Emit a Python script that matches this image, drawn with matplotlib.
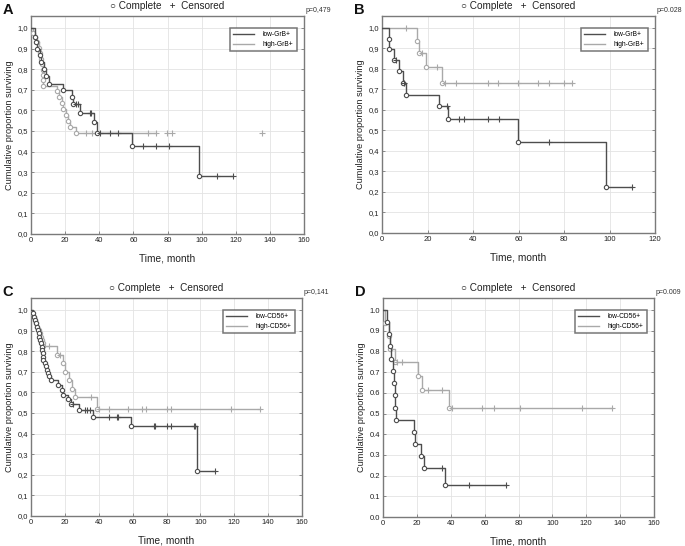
import matplotlib
matplotlib.use("Agg")
import matplotlib.pyplot as plt
from matplotlib.ticker import FixedLocator, FuncFormatter

plt.rcParams['font.family'] = ['Liberation Sans', 'DejaVu Sans']

# ---------------- data ----------------
# Panel A (GrB, full range)
a_low_t = [2.5, 3.1, 3.7, 5.1, 6.1, 7.6, 9.0, 10.4, 18.8, 24.2, 24.6, 28.5, 36.7, 38.7, 59.2, 98.2]
a_low_s = [0.956, 0.93, 0.90, 0.868, 0.835, 0.80, 0.767, 0.73, 0.697, 0.663, 0.63, 0.589, 0.544, 0.49, 0.427, 0.283]
a_low_c = [26.6, 27.5, 34.4, 35.4, 40.5, 46.5, 51.2, 65.5, 73.1, 80.9, 108.8, 118.6]
a_high_t = [1.0, 2.5, 3.5, 4.5, 5.2, 6.0, 6.5, 7.0, 7.0, 7.2, 7.2, 15.2, 16.6, 18.0, 19.0, 20.3, 21.8, 22.8, 26.3]
a_high_s = [0.977, 0.955, 0.93, 0.905, 0.88, 0.85, 0.825, 0.795, 0.77, 0.746, 0.72, 0.694, 0.665, 0.635, 0.605, 0.578, 0.55, 0.52, 0.49]
a_high_c = [32.5, 35.5, 68.4, 73.1]
a_high_c_extra = [79.5, 82.8, 135.6]

# Panel B (GrB)
b_low_t = [2.9, 3.0, 5.1, 7.6, 9.2, 10.4, 24.9, 28.9, 59.6, 98.4]
b_low_s = [0.947, 0.895, 0.842, 0.789, 0.731, 0.673, 0.617, 0.555, 0.444, 0.222]
b_low_c = [6.3, 9.6, 28.5, 33.7, 35.9, 46.4, 51.5, 73.5, 109.8]
b_high_t = [15.5, 16.4, 19.2, 26.3]
b_high_s = [0.938, 0.876, 0.81, 0.733]
b_high_c = [10.5, 17.7, 24.2, 27.5, 32.6, 46.4, 51.2, 59.7, 68.5, 73.5, 80.2, 83.7]

# Panel C (CD56, full range)
c_low_t = [1.0, 1.8, 2.5, 3.0, 3.5, 4.0, 4.5, 4.8, 5.3, 5.8, 6.2, 6.5, 6.8, 7.0, 7.3, 8.0, 8.8, 9.3, 10.0,
           10.6, 11.6, 16.0, 18.2, 19.0, 22.0, 23.4, 28.2, 36.5, 58.8, 97.8]
c_low_s = [0.984, 0.968, 0.952, 0.936, 0.919, 0.903, 0.887, 0.871, 0.855, 0.838, 0.822, 0.806, 0.79, 0.774,
           0.758, 0.742, 0.726, 0.71, 0.694, 0.678, 0.661, 0.637, 0.613, 0.589, 0.567, 0.545, 0.516, 0.482,
           0.437, 0.22]
c_low_c = [24.8, 32.0, 33.3, 34.8, 46.0, 50.6, 51.2, 72.6, 73.2, 80.1, 82.7, 96.0, 97.0, 108.7]
c_high_t = [0.8, 1.8, 2.5, 3.2, 3.8, 4.5, 5.2, 5.8, 6.3, 6.8, 7.0, 15.3, 18.8, 20.2, 22.4, 24.0, 26.0, 38.8]
c_high_s = [0.984, 0.968, 0.952, 0.936, 0.919, 0.903, 0.887, 0.871, 0.855, 0.839, 0.823, 0.782, 0.742,
            0.70, 0.66, 0.618, 0.577, 0.519]
c_high_c = [10.8, 17.1, 35.5, 40.4, 46.1, 57.5, 65.4, 67.9, 80.1, 82.7, 117.9, 135.2]

# Panel D (CD56)
d_low_t = [2.6, 3.8, 4.3, 4.8, 6.0, 6.4, 6.9, 7.1, 7.4, 18.2, 18.8, 22.6, 24.3, 36.6]
d_low_s = [0.941, 0.882, 0.824, 0.765, 0.706, 0.647, 0.588, 0.529, 0.471, 0.412, 0.353, 0.294, 0.235, 0.157]
d_low_c = [34.6, 50.8, 72.8]
d_high_t = [1.2, 3.8, 4.2, 7.1, 20.5, 22.9, 39.0]
d_high_s = [0.9375, 0.875, 0.8125, 0.75, 0.682, 0.614, 0.526]
d_high_c = [8.0, 11.2, 26.8, 34.6, 41.0, 58.3, 65.6, 80.7, 117.7, 135.4]

panel_letters = ["A", "B", "C", "D"]
p_values = ["p=0,479", "p=0.028", "p=0,141", "p=0.009"]
legend_labels = [("low-GrB+", "high-GrB+"), ("low-GrB+", "high-GrB+"),
                 ("low-CD56+", "high-CD56+"), ("low-CD56+", "high-CD56+")]
x_max = [160, 120, 160, 160]
decimal_sep = [",", ",", ",", "."]
header = "\u25cb Complete   +  Censored"
x_label = "Time, month"
y_label = "Cumulative proportion surviving"

DARK = "#4d4d4d"
LIGHT = "#a9a9a9"
W, H = 685, 546


def surv_at(ts, ss, t):
    v = 1.0
    for te, se in zip(ts, ss):
        if te <= t:
            v = se
    return v


def km(ax, ts, ss, cs, color, label, zorder, extra=None):
    x, y = [0.0], [1.0]
    prev = 1.0
    for t, s in zip(ts, ss):
        x += [t, t]
        y += [prev, s]
        prev = s
    tend = max(list(ts) + list(cs))
    x.append(tend)
    y.append(prev)
    line, = ax.plot(x, y, color=color, lw=1.0, label=label, zorder=zorder)
    ax.plot(ts, ss, linestyle="none", marker="o", ms=3.1, mfc="white", mec=color, mew=0.8, zorder=zorder + 1)
    cens = list(cs) + (list(extra) if extra else [])
    ax.plot(cens, [surv_at(ts, ss, c) for c in cens], linestyle="none", marker="+", ms=4.0,
            mew=0.8, color=color, zorder=zorder + 1)
    return line


fig = plt.figure(figsize=(W / 100, H / 100), dpi=100)

# axes boxes in pixels: left, top, right, bottom
boxes = [(31, 16, 304, 234), (382, 16, 655, 233), (31, 298, 302, 516), (383, 298, 654, 517)]
series = [
    (a_low_t, a_low_s, a_low_c, a_high_t, a_high_s, a_high_c, a_high_c_extra),
    (b_low_t, b_low_s, b_low_c, b_high_t, b_high_s, b_high_c, None),
    (c_low_t, c_low_s, c_low_c, c_high_t, c_high_s, c_high_c, None),
    (d_low_t, d_low_s, d_low_c, d_high_t, d_high_s, d_high_c, None),
]

for i, ((l, t, r, b), data) in enumerate(zip(boxes, series)):
    ax = fig.add_axes([l / W, 1 - b / H, (r - l) / W, (b - t) / H])
    lt, ls, lc, ht, hs, hc, hx = data
    h_line = km(ax, ht, hs, hc, LIGHT, legend_labels[i][1], 2, extra=hx)
    l_line = km(ax, lt, ls, lc, DARK, legend_labels[i][0], 4)
    ax.set_xlim(0, x_max[i])
    ax.set_ylim(0, 1.058)
    ax.xaxis.set_major_locator(FixedLocator(list(range(0, x_max[i] + 1, 20))))
    ax.yaxis.set_major_locator(FixedLocator([k / 10 for k in range(11)]))
    sep = decimal_sep[i]
    ax.yaxis.set_major_formatter(FuncFormatter(lambda v, p, sep=sep: f"{v:.1f}".replace(".", sep)))
    ax.grid(True, color="#e3e3e3", lw=0.6)
    ax.set_axisbelow(True)
    for sp in ax.spines.values():
        sp.set_color("#7a7a7a")
        sp.set_linewidth(1.0)
    ax.tick_params(direction="in", length=2.5, width=0.6, colors="#7a7a7a", labelcolor="#222222",
                   labelsize=5.5, pad=2, right=True, top=False)
    ax.set_xlabel(x_label, fontsize=7.3, labelpad=7, color="#222222")
    ax.set_ylabel(y_label, fontsize=6.6, labelpad=3, color="#222222")
    leg = ax.legend(handles=[l_line, h_line], loc="upper right", fontsize=4.8, frameon=True,
                    fancybox=False, edgecolor="#555555", handlelength=3.2, handletextpad=1.2,
                    borderpad=0.5, labelspacing=0.4, bbox_to_anchor=(0.985, 0.96))
    leg.get_frame().set_linewidth(1.1)
    for line in leg.get_lines():
        line.set_linewidth(1.0)
    # header, letter, p-value
    cx = (l + r) / 2
    fig.text(cx / W, 1 - (t - 10) / H, header, fontsize=7.2, ha="center", va="center", color="#222222")
    fig.text((l - 23) / W, 1 - (t - 6) / H, panel_letters[i], fontsize=10.5, fontweight="bold",
             ha="center", va="center", color="#111111")
    fig.text((r + 27) / W, 1 - (t - 6) / H, p_values[i], fontsize=5.0, ha="right", va="center",
             color="#333333")

fig.savefig("out.png", dpi=100)
